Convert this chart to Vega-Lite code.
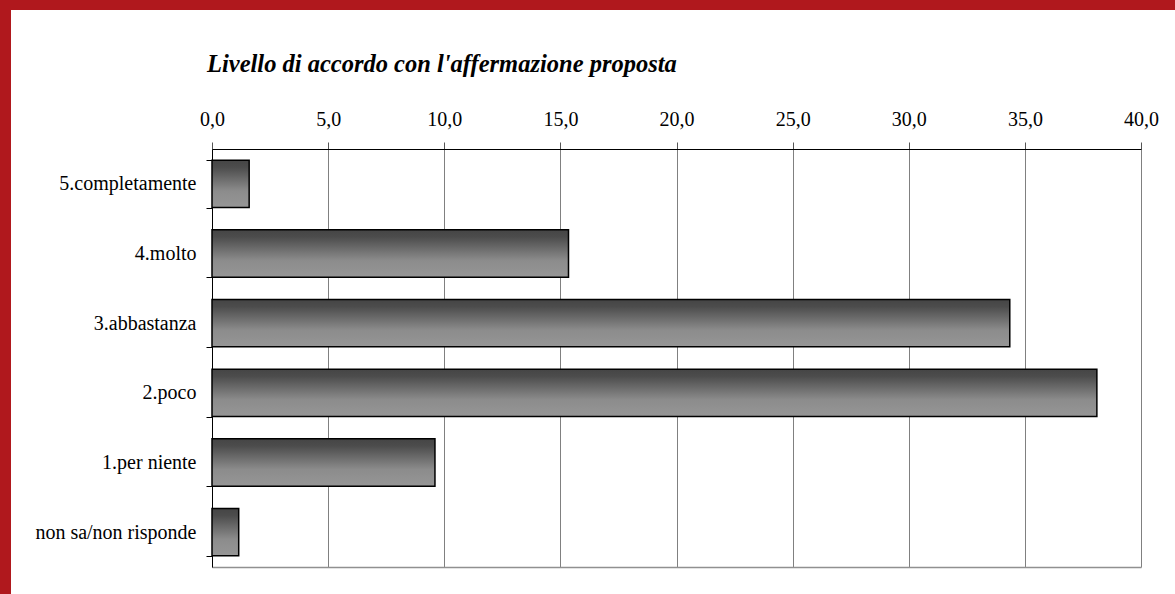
{
  "$schema": "https://vega.github.io/schema/vega-lite/v6.json",
  "width": 1164,
  "height": 584,
  "autosize": "none",
  "padding": {"left": 11, "top": 10, "right": 0, "bottom": 0},
  "background": "#b0181d",
  "view": {"fill": "white", "stroke": null},
  "title": {
    "text": "Livello di accordo con l'affermazione proposta",
    "anchor": "start",
    "frame": "group",
    "dx": 196,
    "offset": -96,
    "baseline": "alphabetic",
    "font": "Liberation Serif",
    "fontSize": 24.5,
    "fontStyle": "italic",
    "fontWeight": "bold",
    "color": "black"
  },
  "data": {
    "values": [
      {"categoria": "5.completamente", "percentuale": 1.6},
      {"categoria": "4.molto", "percentuale": 15.35},
      {"categoria": "3.abbastanza", "percentuale": 34.35},
      {"categoria": "2.poco", "percentuale": 38.1},
      {"categoria": "1.per niente", "percentuale": 9.6},
      {"categoria": "non sa/non risponde", "percentuale": 1.15}
    ]
  },
  "encoding": {
    "y": {
      "field": "categoria",
      "type": "nominal",
      "sort": null,
      "title": null,
      "scale": {"range": [139, 557], "paddingInner": 0.32, "paddingOuter": 0.16},
      "axis": {
        "orient": "left",
        "offset": -201,
        "tickBand": "extent",
        "grid": false,
        "domainColor": "black",
        "tickColor": "black",
        "tickSize": 6,
        "labelPadding": 10,
        "labelFont": "Liberation Serif",
        "labelFontSize": 20,
        "labelColor": "black",
        "labelLimit": 300
      }
    },
    "x": {
      "field": "percentuale",
      "type": "quantitative",
      "title": null,
      "scale": {"domain": [0, 40], "nice": false, "range": [201, 1130]}
    }
  },
  "layer": [
    {
      "mark": {
        "type": "bar",
        "stroke": "black",
        "strokeWidth": 1.5,
        "color": {
          "gradient": "linear",
          "x1": 0, "y1": 0, "x2": 0, "y2": 1,
          "stops": [
            {"offset": 0, "color": "#454545"},
            {"offset": 0.15, "color": "#4c4c4c"},
            {"offset": 0.65, "color": "#8c8c8c"},
            {"offset": 1, "color": "#969696"}
          ]
        }
      },
      "encoding": {
        "x": {
          "field": "percentuale",
          "type": "quantitative",
          "axis": {
            "orient": "top",
            "offset": -139,
            "values": [0, 5, 10, 15, 20, 25, 30, 35, 40],
            "labelExpr": "replace(format(datum.value, '.1f'), '.', ',')",
            "labelFlush": false,
            "grid": true,
            "gridColor": "#808080",
            "gridWidth": 1,
            "domainColor": "black",
            "tickColor": "#555555",
            "tickSize": 7,
            "labelBaseline": "alphabetic",
            "labelPadding": 17,
            "labelFont": "Liberation Serif",
            "labelFontSize": 20,
            "labelColor": "black"
          }
        }
      }
    },
    {
      "mark": {"type": "bar", "opacity": 0},
      "encoding": {
        "x": {
          "field": "percentuale",
          "type": "quantitative",
          "axis": {
            "orient": "bottom",
            "offset": -27,
            "values": [0, 40],
            "grid": false,
            "labels": false,
            "ticks": false,
            "domainColor": "#909090",
            "domainWidth": 1.5
          }
        }
      }
    }
  ],
  "resolve": {"axis": {"x": "independent"}}
}
